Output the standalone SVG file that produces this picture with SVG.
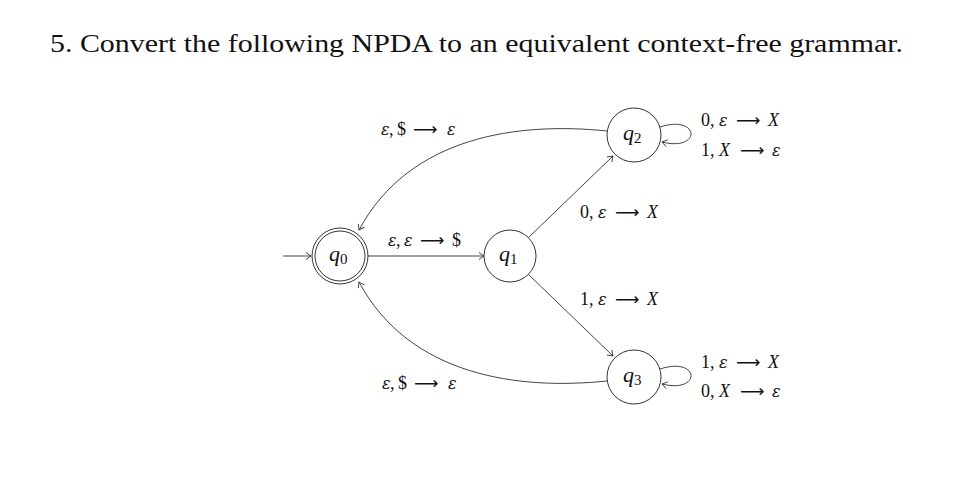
<svg xmlns="http://www.w3.org/2000/svg" width="964" height="485" viewBox="0 0 964 485">
<defs>
<style>
.node{fill:#fff;stroke:#333;stroke-width:1}
.edge{fill:none;stroke:#444;stroke-width:1}
.lbl{font-family:"Liberation Serif","DejaVu Serif",serif;font-size:18px;fill:#111}
.m{font-style:italic}
.e{font-family:"DejaVu Serif",serif;font-style:italic;font-size:16px}
.a{font-family:"DejaVu Sans",sans-serif;font-size:17px}
.q{font-family:"Liberation Serif","DejaVu Serif",serif;font-size:22px;font-style:italic;fill:#111}
.sub{font-size:15px;font-style:normal}
.title{font-family:"Liberation Serif","DejaVu Serif",serif;font-size:26px;fill:#111}
</style>
<marker id="arr" viewBox="-6 -5 8 10" markerWidth="8" markerHeight="10" refX="0" refY="0" orient="auto" markerUnits="userSpaceOnUse">
<path d="M-5,-3.5 Q-1.5,-0.8 0,0 Q-1.5,0.8 -5,3.5" fill="none" stroke="#333" stroke-width="0.9"/>
</marker>
</defs>
<rect width="964" height="485" fill="#fff"/>
<text class="title" x="50" y="52" textLength="853" lengthAdjust="spacingAndGlyphs">5. Convert the following NPDA to an equivalent context-free grammar.</text>

<g id="connectors">
<line class="edge" x1="283" y1="256" x2="311" y2="256" marker-end="url(#arr)"/>
<line class="edge" x1="368" y1="256" x2="484" y2="256" marker-end="url(#arr)"/>
<line class="edge" x1="528" y1="238" x2="613" y2="156" marker-end="url(#arr)"/>
<line class="edge" x1="528" y1="274" x2="613" y2="356" marker-end="url(#arr)"/>
<path class="edge" d="M607,131 C520,122 410,135 359,230" marker-end="url(#arr)"/>
<path class="edge" d="M607,381 C520,390 410,377 359,282" marker-end="url(#arr)"/>
<path class="edge" d="M660,127 C700,114 702,152 662,142" marker-end="url(#arr)"/>
<path class="edge" d="M660,369 C700,356 702,394 662,384" marker-end="url(#arr)"/>

<text class="lbl" y="246"><tspan class="e" x="388">ε</tspan><tspan x="396">,</tspan><tspan class="e" x="404">ε</tspan><tspan class="a" x="420">⟶</tspan><tspan x="452">$</tspan></text>
<text class="lbl" y="135"><tspan class="e" x="381">ε</tspan><tspan x="389">,</tspan><tspan x="397">$</tspan><tspan class="a" x="413">⟶</tspan><tspan class="e" x="447">ε</tspan></text>
<text class="lbl" y="389"><tspan class="e" x="382">ε</tspan><tspan x="390">,</tspan><tspan x="398">$</tspan><tspan class="a" x="414">⟶</tspan><tspan class="e" x="448">ε</tspan></text>

<text class="lbl" y="218"><tspan x="580">0,</tspan><tspan class="e" x="598">ε</tspan><tspan class="a" x="615">⟶</tspan><tspan class="m" x="647">X</tspan></text>
<text class="lbl" y="305"><tspan x="580">1,</tspan><tspan class="e" x="598">ε</tspan><tspan class="a" x="615">⟶</tspan><tspan class="m" x="647">X</tspan></text>
<text class="lbl" y="126"><tspan x="701">0,</tspan><tspan class="e" x="719">ε</tspan><tspan class="a" x="736">⟶</tspan><tspan class="m" x="768">X</tspan></text>
<text class="lbl" y="156"><tspan x="701">1,</tspan><tspan class="m" x="719">X</tspan><tspan class="a" x="740">⟶</tspan><tspan class="e" x="772">ε</tspan></text>
<text class="lbl" y="368"><tspan x="701">1,</tspan><tspan class="e" x="719">ε</tspan><tspan class="a" x="736">⟶</tspan><tspan class="m" x="768">X</tspan></text>
<text class="lbl" y="397"><tspan x="701">0,</tspan><tspan class="m" x="719">X</tspan><tspan class="a" x="740">⟶</tspan><tspan class="e" x="772">ε</tspan></text>
</g>

<g id="q0">
<circle class="node" cx="340" cy="256" r="28"/>
<circle class="node" cx="340" cy="256" r="25"/>
<text class="q" x="329" y="261">q<tspan class="sub" dy="3">0</tspan></text>
</g>
<g id="q1">
<circle class="node" cx="510" cy="256" r="26"/>
<text class="q" x="499" y="261">q<tspan class="sub" dy="3">1</tspan></text>
</g>
<g id="q2">
<circle class="node" cx="634" cy="135" r="27"/>
<text class="q" x="623" y="140">q<tspan class="sub" dy="3">2</tspan></text>
</g>
<g id="q3">
<circle class="node" cx="634" cy="377" r="27"/>
<text class="q" x="623" y="382">q<tspan class="sub" dy="3">3</tspan></text>
</g>
</svg>
